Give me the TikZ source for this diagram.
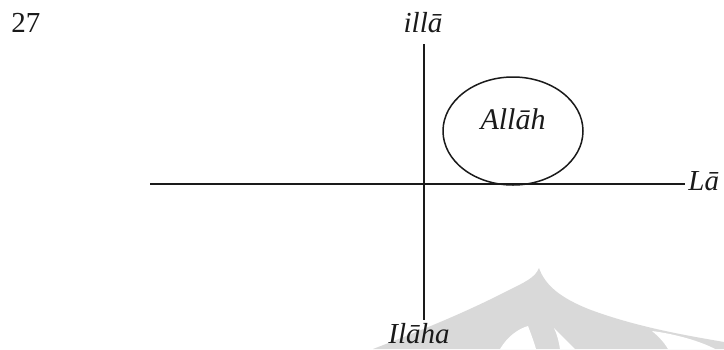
\documentclass[tikz,border=0pt]{standalone}
\usepackage{fontspec}
\setmainfont{Liberation Serif}
\usetikzlibrary{shapes.geometric, positioning}

\begin{document}
\begin{tikzpicture}[
    x=0.5pt, y=-0.5pt,
    every node/.style={font=\fontsize{14.5}{16}\selectfont, inner sep=0pt},
]

% ---------------------------------------------------------------- colours
\definecolor{axiscolor}{HTML}{1A1A1A}   % the two lines and the oval
\definecolor{logogray}{HTML}{D9D9D9}    % faint seal behind the figure

\tikzset{
    axis/.style={line width=0.75pt, axiscolor},
    oval/.style={ellipse, draw=axiscolor, line width=0.75pt,
        minimum width=70pt, minimum height=54pt},
    arm/.style={anchor=base, text=axiscolor, font=\fontsize{14.5}{16}\selectfont\itshape},
    logoshade/.style={fill=logogray},
}

\useasboundingbox (0, 0) rectangle (724, 349);

% ================================================================
% pixel grid: 724 x 349, y runs downwards
%   cross at (424, 184), oval centre (513, 131)
% ================================================================

% ---------------------------------------------------------------- seal
\fill[logoshade] (373, 349) .. controls (430, 327) and (470, 310) .. (505, 292)
    .. controls (525, 282) and (535, 278) .. (539, 268)
    .. controls (545, 285) and (560, 298) .. (591, 310)
    .. controls (640, 328) and (690, 336) .. (724, 342)
    -- (724, 349) -- cycle;
\fill[white] (500, 349) .. controls (508, 336) and (518, 329) .. (528, 326)
    .. controls (531, 334) and (534, 342) .. (536, 349) -- cycle;
\fill[white] (554, 328) .. controls (560, 334) and (568, 342) .. (575, 349)
    -- (560, 349) .. controls (559, 342) and (557, 334) .. cycle;
\fill[white] (652, 331) .. controls (675, 334) and (700, 341) .. (715, 349)
    -- (668, 349) .. controls (664, 342) and (658, 336) .. cycle;

% ---------------------------------------------------------------- labels
\node[anchor=base west, text=axiscolor] (page) at (11, 32) {27};
\node[arm] (illa) at (423, 32) {illā};
\node[arm, anchor=base west] (la) at (688, 190) {Lā};
\node[arm] (ilaha) at (419, 343) {Ilāha};

% ---------------------------------------------------------------- axes
\coordinate (vtop) at (424, 44);
\coordinate (vbot) at (424, 320);
\coordinate (hleft) at (150, 184);

\draw[axis] (vtop) -- (vbot);
\draw[axis] (hleft) -- ([xshift=-1.5pt]hleft -| la.west);

% ---------------------------------------------------------------- oval
\node[oval] (oval) at (513, 131) {};
\node[arm, font=\fontsize{15}{17}\selectfont\itshape] (allah) at (513, 129) {Allāh};

\end{tikzpicture}
\end{document}
